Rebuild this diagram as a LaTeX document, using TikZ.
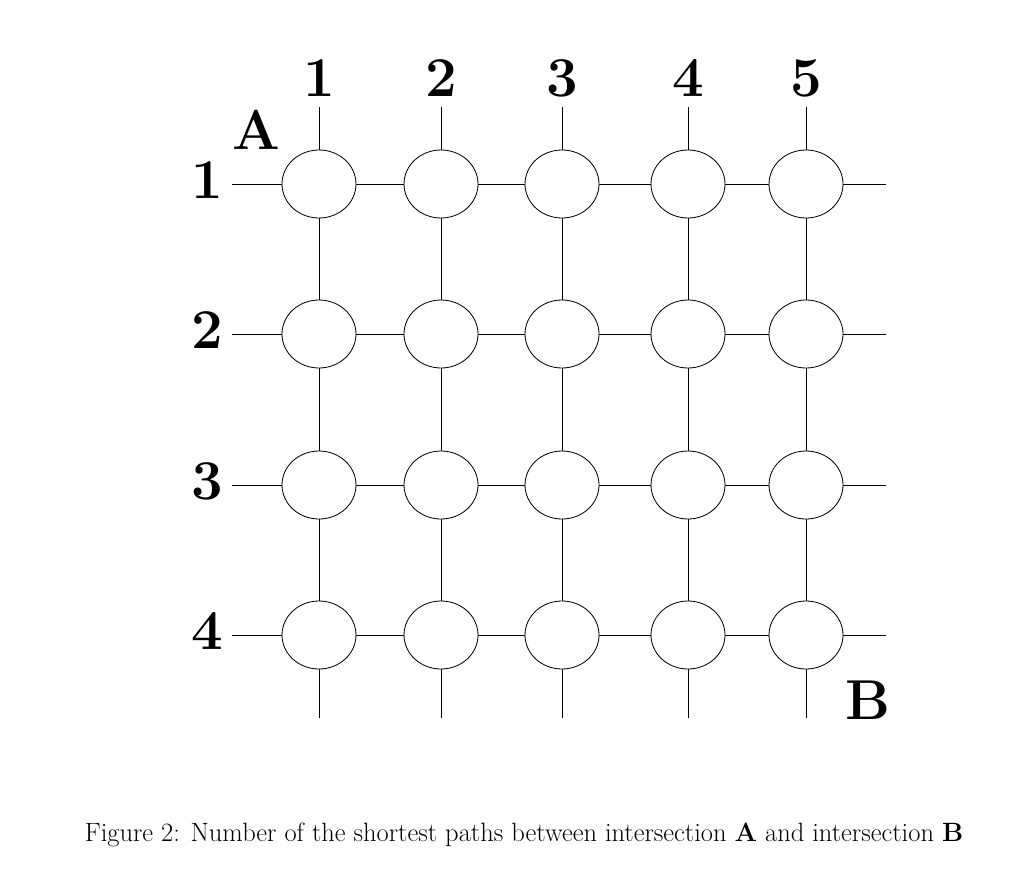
\documentclass[tikz,border=0pt]{standalone}
\usetikzlibrary{shapes.geometric}
\begin{document}
\begin{tikzpicture}[x=0.03cm,y=-0.03cm,
  cell/.style={draw,ellipse,fill=white,minimum width=74*0.03cm,minimum height=68*0.03cm,inner sep=0pt,line width=0.7pt},
  big/.style={font=\fontsize{48}{48}\selectfont\bfseries,inner sep=0pt},
  gl/.style={line width=0.7pt}]
\useasboundingbox (0,0) rectangle (1012,876);
\def\xs{{319,441,562,688,806}}
\def\ys{{184,334,485,635}}
\foreach \c in {0,...,4}{
  \pgfmathsetmacro\xx{\xs[\c]}
  \coordinate (t\c) at (\xx,107);
  \coordinate (b\c) at (\xx,718);
  \pgfmathtruncatemacro\n{\c+1}
  \node[big] at (\xx,78) {\n};
}
\foreach \r in {0,...,3}{
  \pgfmathsetmacro\yy{\ys[\r]}
  \coordinate (l\r) at (232,\yy);
  \coordinate (r\r) at (886,\yy);
  \pgfmathtruncatemacro\n{\r+1}
  \node[big] at (207,\yy-4) {\n};
}
\foreach \c in {0,...,4} \draw[gl] (t\c) -- (b\c);
\foreach \r in {0,...,3} \draw[gl] (l\r) -- (r\r);
\foreach \c in {0,...,4}{
  \foreach \r in {0,...,3}{
    \pgfmathsetmacro\xx{\xs[\c]}
    \pgfmathsetmacro\yy{\ys[\r]}
    \node[cell] (n\c\r) at (\xx,\yy) {};
  }
}
\node[big] (A) at (256,130) {A};
\node[big] (B) at (868,700) {B};
\node[font=\fontsize{22.6}{26}\selectfont] (cap) at (524,835) {Figure 2: Number of the shortest paths between intersection \textbf{A} and intersection \textbf{B}};
\end{tikzpicture}
\end{document}
